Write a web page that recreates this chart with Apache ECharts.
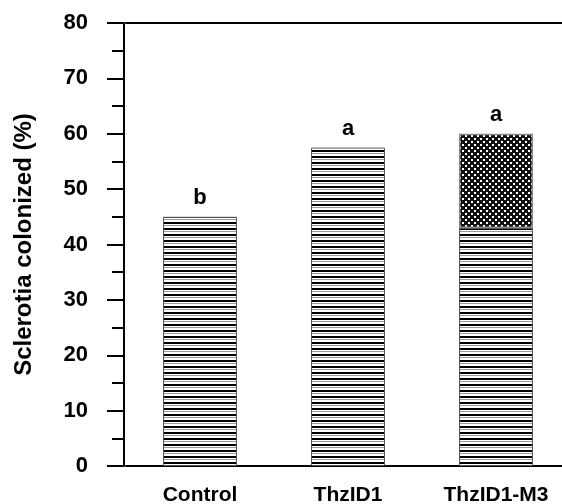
<!DOCTYPE html>
<html>
<head>
<meta charset="utf-8">
<script src="https://cdn.jsdelivr.net/npm/echarts@6/dist/echarts.min.js"></script>
<style>
  html, body { margin: 0; padding: 0; background: #fff; }
  #chart { width: 562px; height: 504px; }
</style>
</head>
<body>
<div id="chart"></div>
<script>
// data
var categories = ["Control", "ThzID1", "ThzID1-M3"];
var stripedValues = [45, 57.5, 43];      // horizontal-line part of each bar
var hatchedValues = ["-", "-", 17];       // cross-hatched part stacked on top (M3 only)
var letters = ["b", "a", "a"];            // significance letters
var yTicks = { min: 0, max: 80, interval: 10 };

var FONT = "'Liberation Sans', Arial, sans-serif";

// horizontal stripes fill
function stripePattern() {
  var c = document.createElement("canvas");
  c.width = 8; c.height = 6;
  var ctx = c.getContext("2d");
  ctx.fillStyle = "#fff";
  ctx.fillRect(0, 0, 8, 6);
  ctx.fillStyle = "#000";
  ctx.fillRect(0, 0, 8, 2);
  ctx.fillStyle = "#9a9a9a";
  ctx.fillRect(0, 3, 8, 1);
  return c;
}

// dark crosshatch with white dots
function hatchPattern() {
  var c = document.createElement("canvas");
  c.width = 6; c.height = 6;
  var ctx = c.getContext("2d");
  ctx.fillStyle = "#111";
  ctx.fillRect(0, 0, 6, 6);
  ctx.fillStyle = "#fff";
  ctx.fillRect(0, 0, 2, 2);
  ctx.fillRect(3, 3, 2, 2);
  return c;
}

var letterLabel = {
  show: true,
  position: "top",
  distance: 8,
  color: "#000",
  fontFamily: FONT,
  fontWeight: "bold",
  fontSize: 22
};

var stripedData = stripedValues.map(function (v, i) {
  var last = hatchedValues[i] === "-";
  return {
    value: v,
    label: last ? Object.assign({}, letterLabel, { formatter: letters[i] }) : { show: false }
  };
});
var hatchedData = hatchedValues.map(function (v, i) {
  if (v === "-") return "-";
  return { value: v, label: Object.assign({}, letterLabel, { formatter: letters[i] }) };
});

var myChart = echarts.init(document.getElementById("chart"));
myChart.setOption({
  animation: false,
  backgroundColor: "#fff",
  grid: { left: 126, right: -8, top: 23, bottom: 38, containLabel: false, outerBoundsMode: "none" },
  xAxis: [
    {
      type: "category",
      data: categories,
      axisLine: { lineStyle: { color: "#000", width: 2 } },
      axisTick: { show: false },
      axisLabel: {
        color: "#000",
        fontFamily: FONT,
        fontWeight: "bold",
        fontSize: 21,
        margin: 19
      }
    },
    {
      type: "category",
      position: "top",
      data: categories,
      axisLine: { lineStyle: { color: "#000", width: 2 } },
      axisTick: { show: false },
      axisLabel: { show: false }
    }
  ],
  yAxis: {
    type: "value",
    min: yTicks.min,
    max: yTicks.max,
    interval: yTicks.interval,
    offset: 2,
    name: "Sclerotia colonized (%)",
    nameLocation: "middle",
    nameGap: 88,
    nameTextStyle: {
      color: "#000",
      fontFamily: FONT,
      fontWeight: "bold",
      fontSize: 24
    },
    axisLine: { show: true, lineStyle: { color: "#000", width: 2 } },
    axisTick: { show: true, length: 17, lineStyle: { color: "#000", width: 2 } },
    minorTick: { show: true, splitNumber: 2, length: 12, lineStyle: { color: "#000", width: 2 } },
    splitLine: { show: false },
    axisLabel: {
      color: "#000",
      fontFamily: FONT,
      fontWeight: "bold",
      fontSize: 22,
      margin: 36
    }
  },
  series: [
    {
      type: "bar",
      stack: "total",
      barWidth: "50%",
      data: stripedData,
      itemStyle: {
        color: { image: stripePattern(), repeat: "repeat" },
        borderColor: "#555",
        borderWidth: 1
      }
    },
    {
      type: "bar",
      stack: "total",
      barWidth: "50%",
      data: hatchedData,
      itemStyle: {
        color: { image: hatchPattern(), repeat: "repeat" },
        borderColor: "#888",
        borderWidth: 1.5
      }
    }
  ]
});
</script>
</body>
</html>
